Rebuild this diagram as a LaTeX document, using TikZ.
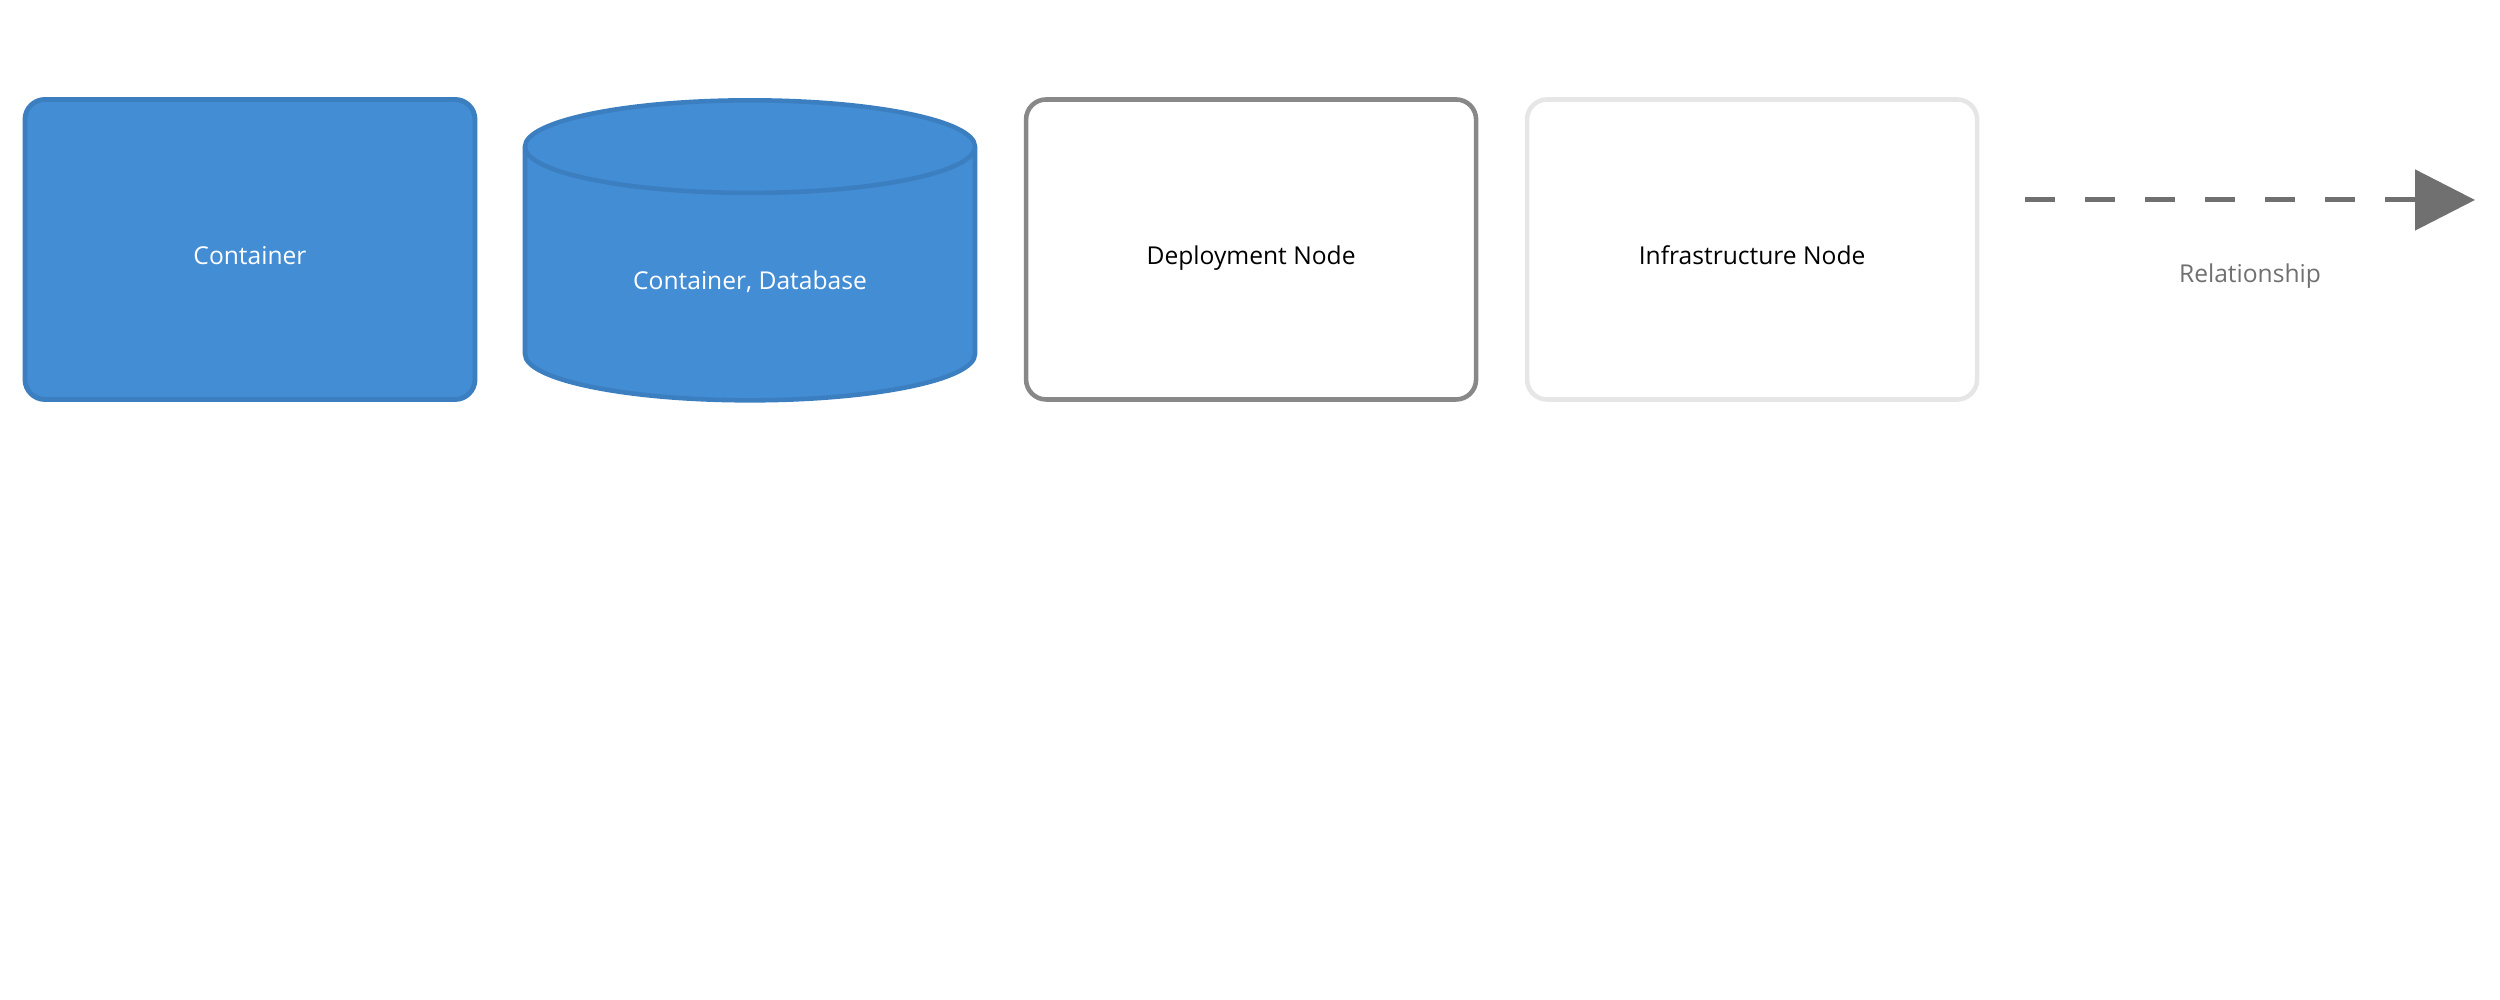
\documentclass[tikz,border=0pt]{standalone}
\usepackage{fontspec}
\setmainfont{Open Sans}
\usetikzlibrary{arrows.meta,positioning,shapes.geometric}
\definecolor{c4-blue}{HTML}{438DD5}
\definecolor{c4-blue-line}{HTML}{3C7FC0}
\definecolor{c4-node}{HTML}{888888}
\definecolor{c4-infra}{HTML}{E6E6E6}
\definecolor{c4-rel}{HTML}{707070}

\begin{document}
\begin{tikzpicture}[node distance=0.51cm, >=Triangle,
    font=\fontsize{7}{8.4}\selectfont,
    box/.style={draw, rectangle, rounded corners=0.2cm, minimum width=4.5cm, minimum height=3.0cm, line width=1.3pt, outer sep=0pt,
        text height=8.8pt, text depth=0pt}]
    \useasboundingbox (0,0) rectangle (25,10);
    \node[box, fill=c4-blue, draw=c4-blue-line, line width=1.4pt, text=white] (cont) at (2.5,7.505) {Container};
    \node[draw=c4-blue-line, fill=c4-blue, text=white, line width=1.3pt, cylinder, shape border rotate=90, aspect=0.36,
        minimum width=4.5cm, minimum height=3.0cm, outer sep=0pt] (db) at (7.5,7.18) {Container, Database};
    \node[box, draw=c4-node, right=of db.east |- cont.east, anchor=west] (depl) {Deployment Node};
    \node[box, draw=c4-infra, right=of depl] (infra) {Infrastructure Node};
    \coordinate (relstart) at (20.25,8);
    \coordinate (relend) at (24.75,8);
    \draw[->, c4-rel, line width=1.42pt, dash pattern=on 0.3cm off 0.3cm, arrows={-Triangle[length=0.6cm, width=0.6cm]}]
        (relstart) -- (relend) node[midway, below=0.5cm, text=c4-rel] (rellabel) {Relationship};
\end{tikzpicture}
\end{document}
